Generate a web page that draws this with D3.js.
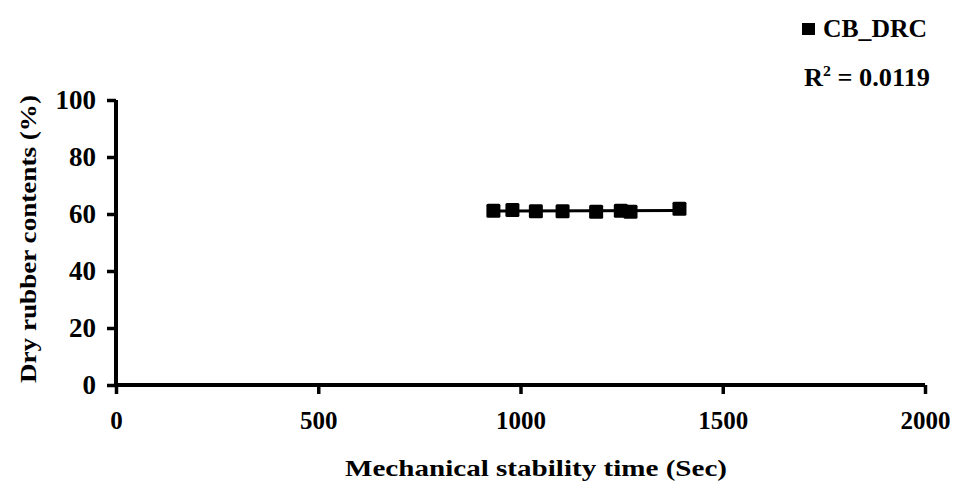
<!DOCTYPE html>
<html><head><meta charset="utf-8">
<script src="https://cdn.jsdelivr.net/npm/d3@7"></script>
<style>body{margin:0;background:#fff}svg{display:block}text{font-family:"Liberation Serif","Times New Roman",serif;font-weight:bold;fill:#000}</style>
</head><body>
<svg id="c" width="957" height="484"></svg>
<script>
const seriesName = "CB_DRC";
const rSquared = "0.0119";
const timeSec = [933, 980, 1038, 1104, 1187, 1248, 1272, 1393];
const drcPct = [61.1, 61.4, 61.0, 61.0, 60.8, 61.1, 60.8, 61.8];
const xTicks = [0, 500, 1000, 1500, 2000];
const yTicks = [0, 20, 40, 60, 80, 100];
const xTitle = "Mechanical stability time (Sec)";
const yTitle = "Dry rubber contents (%)";

const svg = d3.select("#c");
const x = d3.scaleLinear().domain([0, 2000]).range([116, 925]);
const y = d3.scaleLinear().domain([0, 100]).range([385, 100]);

const xAxis = svg.append("g").attr("transform", "translate(0,385)")
  .call(d3.axisBottom(x).tickValues(xTicks).tickSize(9).tickPadding(17).tickFormat(d3.format("d")));
const yAxis = svg.append("g").attr("transform", "translate(116,0)")
  .call(d3.axisLeft(y).tickValues(yTicks).tickSize(9).tickPadding(11).tickFormat(d3.format("d")));
[xAxis, yAxis].forEach(a => {
  a.selectAll("path.domain").attr("stroke", "#000").attr("stroke-width", 4);
  a.selectAll(".tick line").attr("stroke", "#000").attr("stroke-width", 3.5);
});
xAxis.selectAll(".tick text").style("font-size", "26px")
  .attr("textLength", d => String(d).length * 12.5).attr("lengthAdjust", "spacingAndGlyphs");
yAxis.selectAll(".tick text").style("font-size", "27px")
  .attr("textLength", d => String(d).length * 13.5).attr("lengthAdjust", "spacingAndGlyphs");
xAxis.select("path.domain").attr("d", `M${x(0)},0H${x(2000)}`);
yAxis.select("path.domain").attr("d", `M0,${y(0)}V${y(100)}`);

// linear regression trendline
const n = timeSec.length;
const mx = d3.mean(timeSec), my = d3.mean(drcPct);
let sxy = 0, sxx = 0;
for (let i = 0; i < n; i++) { sxy += (timeSec[i]-mx)*(drcPct[i]-my); sxx += (timeSec[i]-mx)**2; }
const slope = sxy / sxx, icpt = my - slope * mx;
const x0 = d3.min(timeSec), x1 = d3.max(timeSec);
svg.append("line").attr("x1", x(x0)).attr("x2", x(x1))
  .attr("y1", y(icpt + slope*x0)).attr("y2", y(icpt + slope*x1))
  .attr("stroke", "#000").attr("stroke-width", 3);

const s = 14;
svg.append("g").selectAll("rect").data(timeSec).join("rect")
  .attr("x", (d) => x(d) - s/2).attr("y", (d, i) => y(drcPct[i]) - s/2)
  .attr("width", s).attr("height", s).attr("rx", 1.5).attr("fill", "#000");

// legend
svg.append("rect").attr("x", 802).attr("y", 23).attr("width", 13).attr("height", 12).attr("fill", "#000");
svg.append("text").attr("x", 823).attr("y", 37).style("font-size", "25px")
  .attr("textLength", 104).attr("lengthAdjust", "spacingAndGlyphs").text(seriesName);
const rt = svg.append("text").attr("x", 804).attr("y", 86).style("font-size", "25px")
  .attr("textLength", 126).attr("lengthAdjust", "spacingAndGlyphs");
rt.append("tspan").text("R");
rt.append("tspan").attr("dy", -10).style("font-size", "15px").text("2");
rt.append("tspan").attr("dy", 10).text(" = " + rSquared);

svg.append("text").attr("x", 536).attr("y", 476).attr("text-anchor", "middle").style("font-size", "24px")
  .attr("textLength", 382).attr("lengthAdjust", "spacingAndGlyphs").text(xTitle);
svg.append("text").attr("transform", "translate(36,239) rotate(-90)").attr("text-anchor", "middle").style("font-size", "24px")
  .attr("textLength", 288).attr("lengthAdjust", "spacingAndGlyphs").text(yTitle);
</script>
</body></html>
